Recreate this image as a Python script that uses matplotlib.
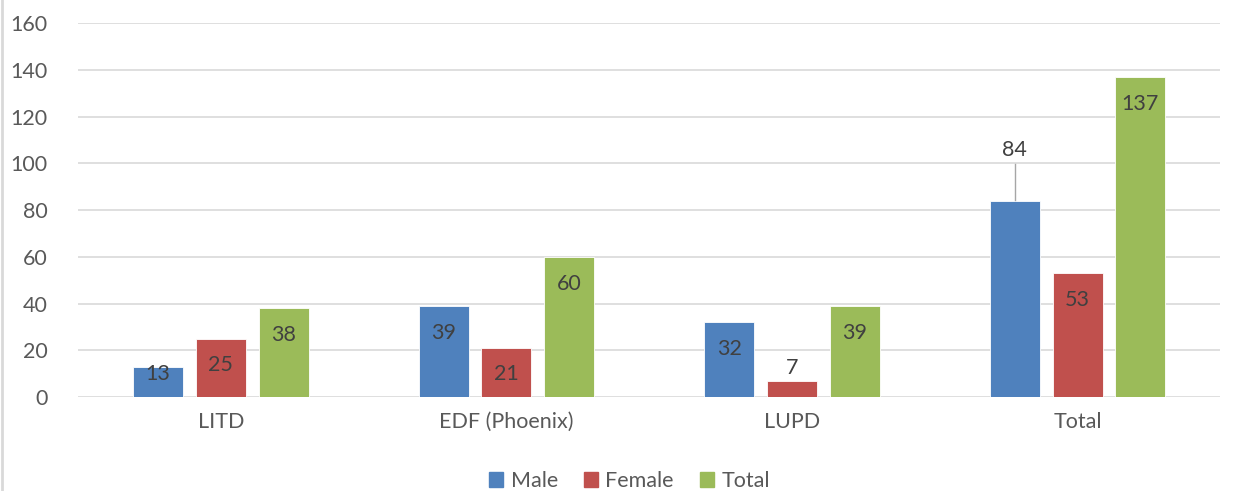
import matplotlib
matplotlib.use("Agg")
import matplotlib.pyplot as plt
from matplotlib.lines import Line2D
import numpy as np

categories = ["LITD", "EDF (Phoenix)", "LUPD", "Total"]
male = [13, 39, 32, 84]
female = [25, 21, 7, 53]
total = [38, 60, 39, 137]

series = [("Male", male, "#4F81BD"),
          ("Female", female, "#C0504D"),
          ("Total", total, "#9BBB59")]

plt.rcParams["font.family"] = ["Lato", "DejaVu Sans"]
TXT = "#595959"
LBL = "#404040"
FS = 15.5

fig = plt.figure(figsize=(12.39, 4.91), dpi=100)
ax = fig.add_axes([0.063, 0.1914, 0.922, 0.7616])

x = np.arange(len(categories))
width = 0.175
offsets = [-0.22, 0.0, 0.22]

for (name, vals, color), off in zip(series, offsets):
    bars = ax.bar(x + off, vals, width, color=color, label=name,
                  edgecolor="white", linewidth=0.6, zorder=3)
    for b, v in zip(bars, vals):
        cx = b.get_x() + b.get_width() / 2
        if v == 84:
            # label pushed above the bar with a leader line
            ax.plot([cx, cx], [v + 0.5, v + 15.5], color="#A6A6A6",
                    lw=1, zorder=4)
            ax.text(cx, v + 21.5, str(v), ha="center", va="center",
                    fontsize=FS, color=LBL, zorder=5)
        elif v < 10:
            ax.text(cx, v + 5.5, str(v), ha="center", va="center",
                    fontsize=FS, color=LBL, zorder=5)
        else:
            y = max(v - 11.5, 10)
            ax.text(cx, y, str(v), ha="center", va="center",
                    fontsize=FS, color=LBL, zorder=5)

ax.set_xlim(-0.5, 3.5)
ax.set_ylim(0, 160)
ax.set_yticks(range(0, 161, 20))
ax.set_xticks(x)
ax.set_xticklabels(categories)
ax.tick_params(axis="both", length=0, labelsize=FS, colors=TXT)
ax.tick_params(axis="y", pad=22)
ax.tick_params(axis="x", pad=11)
ax.grid(axis="y", color="#D9D9D9", lw=1.2, zorder=0)
for s in ax.spines.values():
    s.set_visible(False)

handles = [plt.Rectangle((0, 0), 1, 1, color=c) for _, _, c in series]
fig.legend(handles, [n for n, _, _ in series], loc="center",
           bbox_to_anchor=(0.508, 0.02), ncol=3, frameon=False,
           fontsize=FS, labelcolor=TXT, handlelength=0.65,
           handleheight=0.65, handletextpad=0.35, columnspacing=1.2)

fig.add_artist(Line2D([2 / 1239, 2 / 1239], [0, 1], color="#D9D9D9",
                      lw=2, transform=fig.transFigure))

fig.savefig("out.png", dpi=100)
